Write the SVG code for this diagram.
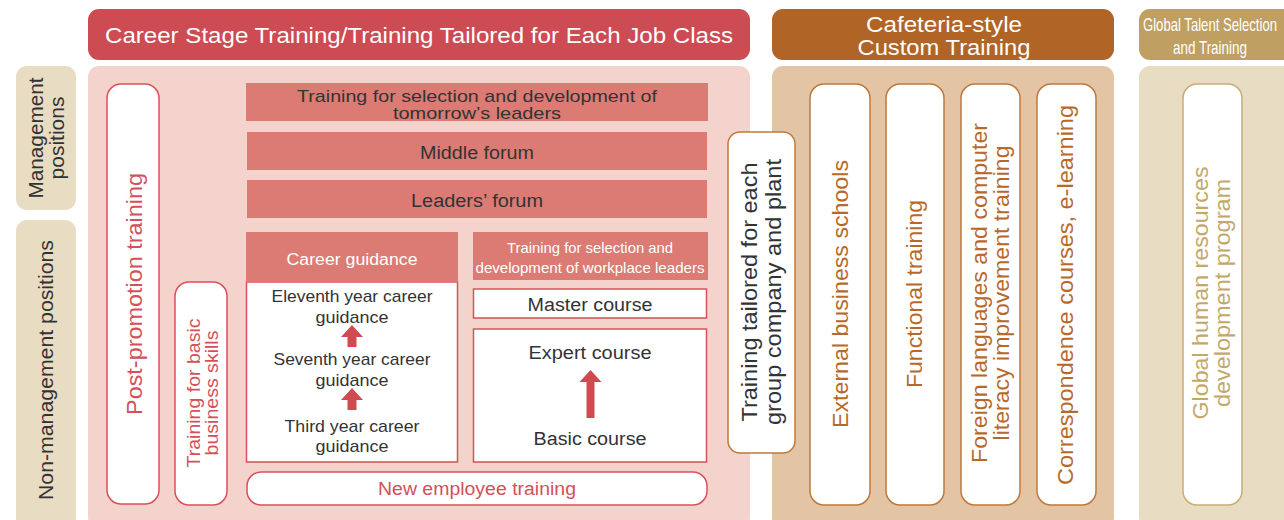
<svg xmlns="http://www.w3.org/2000/svg" width="1284" height="520" viewBox="0 0 1284 520">
<style>
text{font-family:"Liberation Sans",Arial,sans-serif;}
.hd{fill:#fff;font-size:22px;text-anchor:middle;}
.dk{fill:#333;text-anchor:middle;}
.rd{fill:#d4505a;text-anchor:middle;}
.or{fill:#b8692a;text-anchor:middle;font-size:22px;}
.wr{fill:#fff;stroke:#d9505a;stroke-width:1.5;}
.wo{fill:#fff;stroke:#c0783a;stroke-width:1.5;}
.bar{fill:#db7b74;}
.arw{fill:#d04a52;}
</style>
<rect width="1284" height="520" fill="#fff"/>
<!-- headers -->
<g id="hdr-career"><rect x="88" y="9" width="662" height="51" rx="11" fill="#cd4b52"/><text class="hd" x="419" y="43" textLength="628" lengthAdjust="spacingAndGlyphs">Career Stage Training/Training Tailored for Each Job Class</text></g>
<g id="hdr-cafe"><rect x="772" y="9" width="342" height="51" rx="11" fill="#b06425"/><text class="hd" x="944" y="32" textLength="156" lengthAdjust="spacingAndGlyphs">Cafeteria-style</text><text class="hd" x="944" y="55" textLength="173" lengthAdjust="spacingAndGlyphs">Custom Training</text></g>
<g id="hdr-global"><rect x="1139" y="9" width="160" height="51" rx="11" fill="#c0a062"/><text x="1210" y="31" fill="#fff" text-anchor="middle" font-size="19" textLength="134" lengthAdjust="spacingAndGlyphs">Global Talent Selection</text><text x="1210" y="54" fill="#fff" text-anchor="middle" font-size="19" textLength="74" lengthAdjust="spacingAndGlyphs">and Training</text></g>
<!-- side labels -->
<g id="lbl-mgmt"><rect x="16" y="66" width="60" height="144" rx="11" fill="#e8dcc2"/><text class="dk" font-size="20" transform="translate(46,138) rotate(-90)"><tspan x="0" y="-3" textLength="121" lengthAdjust="spacingAndGlyphs">Management</tspan><tspan x="0" y="18" textLength="83" lengthAdjust="spacingAndGlyphs">positions</tspan></text></g>
<g id="lbl-nonmgmt"><rect x="16" y="220" width="60" height="310" rx="11" fill="#e8dcc2"/><text class="dk" font-size="21" transform="translate(53,370) rotate(-90)" textLength="260" lengthAdjust="spacingAndGlyphs">Non-management positions</text></g>
<!-- panels -->
<rect x="88" y="66" width="662" height="462" rx="11" fill="#f4d3cd"/>
<rect x="772" y="66" width="342" height="462" rx="11" fill="#e3c5a6"/>
<rect x="1139" y="66" width="160" height="462" rx="11" fill="#e8dcc2"/>
<!-- pink panel nodes -->
<g id="post-promotion"><rect class="wr" x="107" y="84" width="52" height="420" rx="14"/><text class="rd" font-size="22" transform="translate(142,294) rotate(-90)" textLength="242" lengthAdjust="spacingAndGlyphs">Post-promotion training</text></g>
<g id="basic-skills"><rect class="wr" x="175" y="282" width="52" height="223" rx="14"/><text class="rd" font-size="18" transform="translate(201,393) rotate(-90)"><tspan x="0" y="-1" textLength="149" lengthAdjust="spacingAndGlyphs">Training for basic</tspan><tspan x="0" y="17" textLength="125" lengthAdjust="spacingAndGlyphs">business skills</tspan></text></g>
<g id="tomorrow"><rect class="bar" x="246" y="83" width="462" height="38"/><text class="dk" font-size="17"><tspan x="477" y="102" textLength="360" lengthAdjust="spacingAndGlyphs">Training for selection and development of</tspan><tspan x="477" y="119" textLength="168" lengthAdjust="spacingAndGlyphs">tomorrow’s leaders</tspan></text></g>
<g id="middle"><rect class="bar" x="247" y="132" width="460" height="38"/><text class="dk" font-size="18" x="477" y="159" textLength="114" lengthAdjust="spacingAndGlyphs">Middle forum</text></g>
<g id="leaders"><rect class="bar" x="247" y="180" width="460" height="38"/><text class="dk" font-size="18" x="477" y="207" textLength="132" lengthAdjust="spacingAndGlyphs">Leaders’ forum</text></g>
<g id="career-guidance"><rect class="wr" x="246.5" y="282" width="211" height="180" stroke-width="1"/><rect class="bar" x="246" y="232" width="212" height="50"/><text x="352" y="265" font-size="16" fill="#fff" text-anchor="middle" textLength="131" lengthAdjust="spacingAndGlyphs">Career guidance</text>
<text class="dk" font-size="17"><tspan x="352" y="302" textLength="161" lengthAdjust="spacingAndGlyphs">Eleventh year career</tspan><tspan x="352" y="323" textLength="73" lengthAdjust="spacingAndGlyphs">guidance</tspan><tspan x="352" y="365" textLength="157" lengthAdjust="spacingAndGlyphs">Seventh year career</tspan><tspan x="352" y="386" textLength="73" lengthAdjust="spacingAndGlyphs">guidance</tspan><tspan x="352" y="432" textLength="135" lengthAdjust="spacingAndGlyphs">Third year career</tspan><tspan x="352" y="452" textLength="73" lengthAdjust="spacingAndGlyphs">guidance</tspan></text></g>
<g id="workplace"><rect class="bar" x="473" y="232" width="235" height="48"/><text x="590" y="253" font-size="15" fill="#fff" text-anchor="middle" textLength="166" lengthAdjust="spacingAndGlyphs">Training for selection and</text><text x="590" y="273" font-size="15" fill="#fff" text-anchor="middle" textLength="229" lengthAdjust="spacingAndGlyphs">development of workplace leaders</text></g>
<g id="master"><rect class="wr" x="473.5" y="289" width="233" height="29" stroke-width="1"/><text class="dk" font-size="18" x="590" y="311" textLength="125" lengthAdjust="spacingAndGlyphs">Master course</text></g>
<g id="expert-basic"><rect class="wr" x="473.5" y="329" width="233" height="133" stroke-width="1"/><text class="dk" font-size="18" x="590" y="359" textLength="123" lengthAdjust="spacingAndGlyphs">Expert course</text><text class="dk" font-size="18" x="590" y="445" textLength="113" lengthAdjust="spacingAndGlyphs">Basic course</text></g>
<g id="new-employee"><rect class="wr" x="247" y="472" width="460" height="33" rx="14"/><text class="rd" font-size="18" x="477" y="495" textLength="198" lengthAdjust="spacingAndGlyphs">New employee training</text></g>
<!-- connectors (arrows) -->
<g id="connectors">
<path class="arw" d="M352 325 L363 337 L356.5 337 L356.5 347 L347.5 347 L347.5 337 L341 337 Z"/>
<path class="arw" d="M352 388 L363 400 L356.5 400 L356.5 410 L347.5 410 L347.5 400 L341 400 Z"/>
<path class="arw" d="M590.5 370 L601.5 382 L594.5 382 L594.5 418 L586.5 418 L586.5 382 L579.5 382 Z"/>
</g>
<g id="group-company"><rect class="wo" x="728" y="132" width="67" height="321" rx="12"/><text class="dk" font-size="22" transform="translate(761,292) rotate(-90)"><tspan x="0" y="-4" textLength="259" lengthAdjust="spacingAndGlyphs">Training tailored for each</tspan><tspan x="0" y="20" textLength="266" lengthAdjust="spacingAndGlyphs">group company and plant</tspan></text></g>
<!-- cafeteria -->
<g id="external"><rect class="wo" x="810" y="84" width="60" height="421" rx="14"/><text class="or" transform="translate(848,294) rotate(-90)" textLength="268" lengthAdjust="spacingAndGlyphs">External business schools</text></g>
<g id="functional"><rect class="wo" x="886" y="84" width="58" height="421" rx="14"/><text class="or" transform="translate(922,294) rotate(-90)" textLength="188" lengthAdjust="spacingAndGlyphs">Functional training</text></g>
<g id="foreign"><rect class="wo" x="961" y="84" width="59" height="421" rx="14"/><text class="or" transform="translate(987,293) rotate(-90)"><tspan x="0" y="0" textLength="340" lengthAdjust="spacingAndGlyphs">Foreign languages and computer</tspan><tspan x="0" y="22" textLength="295" lengthAdjust="spacingAndGlyphs">literacy improvement training</tspan></text></g>
<g id="correspondence"><rect class="wo" x="1037" y="84" width="59" height="421" rx="14"/><text class="or" transform="translate(1073,295) rotate(-90)" textLength="380" lengthAdjust="spacingAndGlyphs">Correspondence courses, e-learning</text></g>
<g id="global-hr"><rect x="1183" y="84" width="59" height="421" rx="14" fill="#fff" stroke="#c8ad75" stroke-width="1.5"/><text font-size="22" fill="#c4a86a" text-anchor="middle" transform="translate(1208,293) rotate(-90)"><tspan x="0" y="0" textLength="253" lengthAdjust="spacingAndGlyphs">Global human resources</tspan><tspan x="0" y="22" textLength="228" lengthAdjust="spacingAndGlyphs">development program</tspan></text></g>
</svg>
